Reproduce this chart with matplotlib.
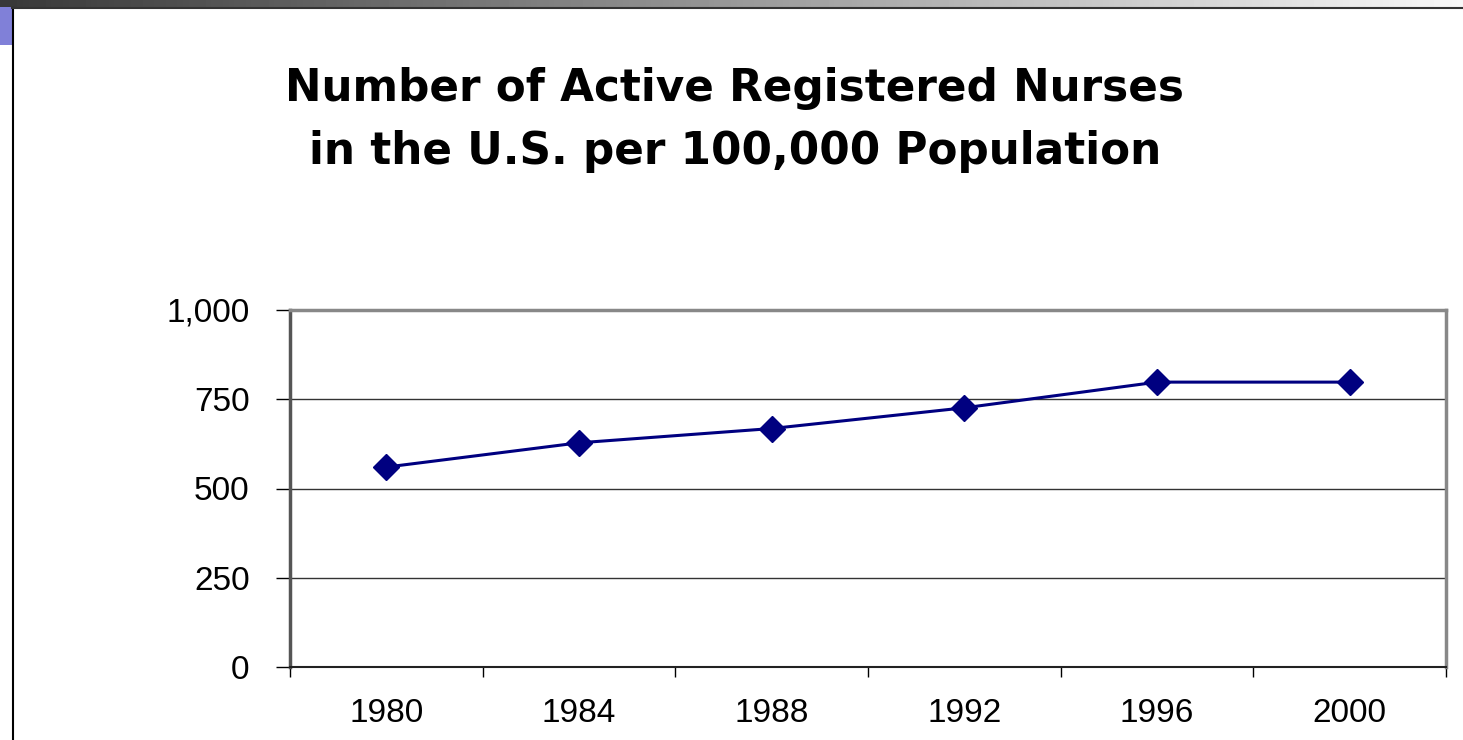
import matplotlib.pyplot as plt
from matplotlib.patches import Rectangle
import numpy as np

plt.rcParams['font.family'] = ['Liberation Sans', 'DejaVu Sans']

years = ['1980', '1984', '1988', '1992', '1996', '2000']
nurses = [560, 628, 668, 726, 798, 798]
yticks = [0, 250, 500, 750, 1000]
ylabels = ['0', '250', '500', '750', '1,000']

fig = plt.figure(figsize=(14.63, 7.40), dpi=100)

# slide frame bits
grad = np.linspace(0.22, 0.97, 256).reshape(1, -1)
bar_ax = fig.add_axes([0, 1 - 7 / 740, 1, 7 / 740])
bar_ax.imshow(grad, aspect='auto', cmap='gray', vmin=0, vmax=1, extent=[0, 1, 0, 1])
bar_ax.axis('off')
fig.add_artist(Rectangle((0, 1 - 45 / 740), 12 / 1463, 38 / 740,
                         transform=fig.transFigure, color='#8080d8', lw=0))
fig.add_artist(plt.Line2D([12.5 / 1463, 12.5 / 1463], [0, 1 - 8 / 740],
                          transform=fig.transFigure, color='black', lw=1.5))
fig.add_artist(plt.Line2D([12 / 1463, 1], [1 - 8 / 740, 1 - 8 / 740],
                          transform=fig.transFigure, color='#333333', lw=1.5))

title_font = dict(ha='center', va='baseline', fontsize=31.5, fontweight='bold',
                  family=['DejaVu Sans'])
fig.text(735 / 1463, 1 - 101 / 740, 'Number of Active Registered Nurses', **title_font)
fig.text(735 / 1463, 1 - 164 / 740, 'in the U.S. per 100,000 Population', **title_font)

ax = fig.add_axes([290 / 1463, 1 - 667 / 740, 1156 / 1463, 357 / 740])
x = np.arange(len(years))
ax.plot(x, nurses, color='#000080', lw=2.2, marker='D', markersize=13, zorder=3)

ax.set_xlim(-0.5, len(years) - 0.5)
ax.set_ylim(0, 1000)
ax.set_yticks(yticks)
ax.set_yticklabels(ylabels, fontsize=24)
ax.set_xticks(x)
ax.set_xticklabels(years, fontsize=24)
ax.set_xticks(np.arange(-0.5, len(years)), minor=True)
ax.tick_params(axis='x', which='major', length=0, pad=22)
ax.tick_params(axis='x', which='minor', length=7, width=1, color='black')
ax.tick_params(axis='y', length=10, width=1, color='black', pad=19)
ax.grid(axis='y', color='#333333', lw=1)
ax.set_axisbelow(True)
for s in ['top', 'right']:
    ax.spines[s].set_color('#888888')
    ax.spines[s].set_linewidth(2.5)
ax.spines['left'].set_color('#555555')
ax.spines['left'].set_linewidth(2.5)
ax.spines['bottom'].set_color('#222222')
ax.spines['bottom'].set_linewidth(1.5)

fig.savefig('out.png', dpi=100)
